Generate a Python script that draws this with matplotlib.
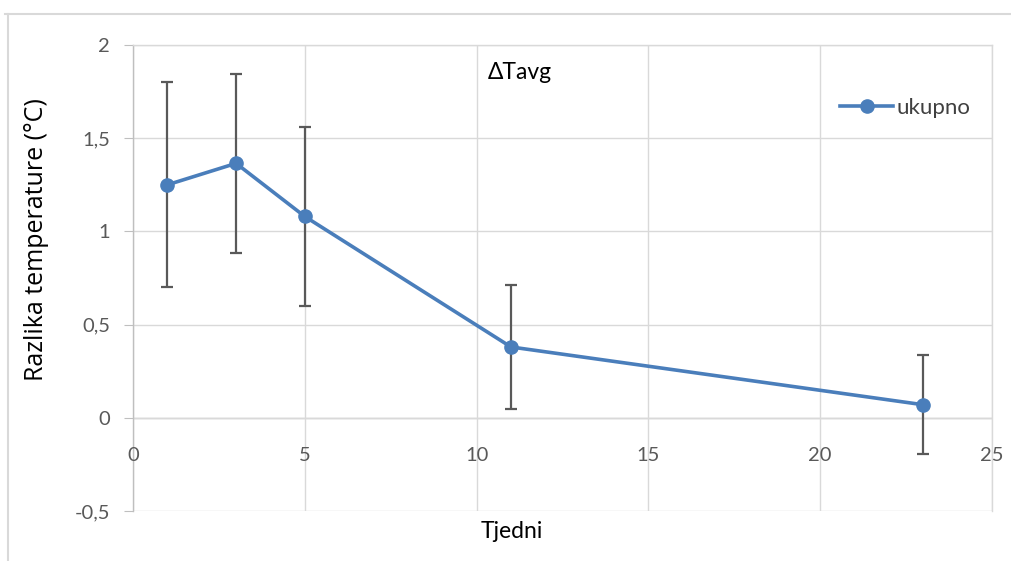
import matplotlib
matplotlib.use("Agg")
import matplotlib.pyplot as plt
from matplotlib.lines import Line2D

weeks = [1, 3, 5, 11, 23]
delta_t = [1.25, 1.365, 1.08, 0.38, 0.07]
err = [0.55, 0.48, 0.48, 0.335, 0.265]
series_name = "ukupno"
title = "ΔTavg"
xlabel = "Tjedni"
ylabel = "Razlika temperature (°C)"
xticks = [0, 5, 10, 15, 20, 25]
yticks = [-0.5, 0, 0.5, 1, 1.5, 2]
ytick_labels = ["-0,5", "0", "0,5", "1", "1,5", "2"]

W, H = 1012, 561
fig = plt.figure(figsize=(W / 100, H / 100), dpi=100)
ax = fig.add_axes([133 / W, 1 - 511 / H, (992 - 133) / W, (511 - 45) / H])

blue = "#4a7ebb"
grid_c = "#d9d9d9"
text_c = "#595959"

ax.errorbar(weeks, delta_t, yerr=err, fmt="none", ecolor="#595959",
            elinewidth=1.6, capsize=4, capthick=1.6, zorder=3)
ax.plot(weeks, delta_t, color=blue, lw=2.6, marker="o", ms=9.5,
        markerfacecolor=blue, markeredgecolor=blue, zorder=4)

ax.set_xlim(0, 25)
ax.set_ylim(-0.5, 2)
ax.set_xticks(xticks)
ax.set_yticks(yticks)
ax.set_yticklabels(ytick_labels)

ax.grid(True, color=grid_c, lw=1.0, zorder=0)
for s in ["top", "right", "bottom", "left"]:
    ax.spines[s].set_color(grid_c)
    ax.spines[s].set_linewidth(1.0)
ax.spines["left"].set_color("#bfbfbf")
ax.spines["bottom"].set_visible(False)
ax.axhline(0, color="#bfbfbf", lw=1.0, zorder=1)

ax.tick_params(axis="y", length=6.5, color="#bfbfbf", pad=10,
               labelcolor=text_c, labelsize=14.5)
ax.tick_params(axis="x", length=0, pad=0, labelcolor=text_c, labelsize=14.5)
for lab in ax.get_yticklabels() + ax.get_xticklabels():
    lab.set_fontfamily("Lato")

# place x tick labels just below the zero line (Excel style)
ax.set_xticklabels([])
for xv in xticks:
    ax.annotate(str(xv), xy=(xv, 0), xycoords="data", xytext=(0, -29),
                textcoords="offset pixels", ha="center", va="top",
                fontsize=14.5, color=text_c, family="Lato")

fig.text(37 / W, 1 - 240 / H, ylabel, rotation=90, ha="center", va="center",
         fontsize=18, color="#000000", family="Open Sans")
fig.text(512 / W, 1 - 532 / H, xlabel, ha="center", va="center",
         fontsize=16.5, color="#000000", family="Lato")
fig.text(520 / W, 1 - 72 / H, title, ha="center", va="center",
         fontsize=16.5, color="#000000", family="Lato")

handle = Line2D([], [], color=blue, lw=2.6, marker="o", ms=9.5)
leg = fig.legend([handle], [series_name], loc="center left",
                 bbox_to_anchor=(820 / W, 1 - 108 / H), frameon=False,
                 handlelength=2.4, handletextpad=0.15,
                 prop={"family": "Lato", "size": 16})
for t in leg.get_texts():
    t.set_color("#404040")

# outer chart frame
fig.add_artist(Line2D([5 / W, 1], [1 - 14 / H, 1 - 14 / H], color="#d9d9d9", lw=1.5,
                      transform=fig.transFigure))
fig.add_artist(Line2D([8 / W, 8 / W], [0, 1 - 14 / H], color="#d9d9d9", lw=1.5,
                      transform=fig.transFigure))

fig.savefig("out.png", dpi=100)
